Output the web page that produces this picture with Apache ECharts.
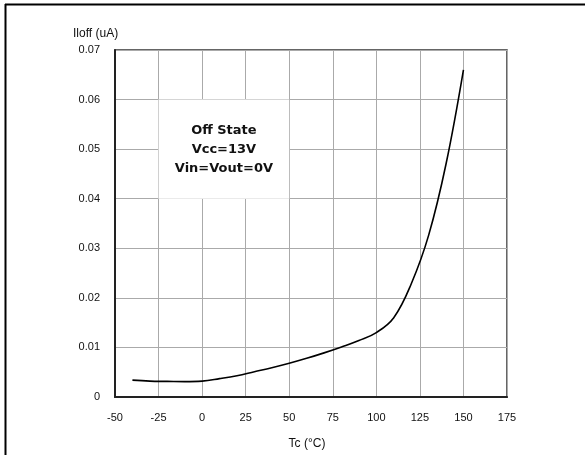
<!DOCTYPE html>
<html>
<head>
<meta charset="utf-8">
<script src="https://cdn.jsdelivr.net/npm/echarts@6/dist/echarts.min.js"></script>
<style>
html,body{margin:0;padding:0;background:#fff;}
#chart{width:585px;height:455px;}
</style>
</head>
<body>
<div id="chart"></div>
<script>
var temps = [-40, -30, -20, -10, 0, 10, 20, 30, 40, 50, 60, 70, 80, 90, 100, 110, 120, 130, 140, 150];
var ioff  = [0.0034, 0.0032, 0.00315, 0.0031, 0.0032, 0.0037, 0.0043, 0.0051, 0.0059, 0.0068, 0.0078, 0.0089, 0.0101, 0.0114, 0.0130, 0.0160, 0.0228, 0.0326, 0.0470, 0.0660];
var noteLines = ['Off State', 'Vcc=13V', 'Vin=Vout=0V'];
var noteBox = [[-25, 0.06], [50, 0.04]];

var font = '"Liberation Sans", Arial, sans-serif';
var chart = echarts.init(document.getElementById('chart'), null, {renderer: 'canvas'});
chart.setOption({
  animation: false,
  backgroundColor: '#fff',
  grid: {left: 115, right: 78, top: 50, bottom: 58, show: true, borderColor: '#333', borderWidth: 1.5},
  xAxis: {
    type: 'value', min: -50, max: 175, interval: 25,
    name: 'Tc (°C)', nameLocation: 'middle', nameGap: 41,
    nameTextStyle: {color: '#111', fontSize: 12, fontFamily: font, padding: [0, 8, 0, 0]},
    axisLine: {show: true, onZero: false, lineStyle: {color: '#222', width: 2}},
    axisTick: {show: false},
    axisLabel: {color: '#111', fontSize: 11, fontFamily: font, margin: 15},
    splitLine: {show: true, lineStyle: {color: '#aaa', width: 1}}
  },
  yAxis: {
    type: 'value', min: 0, max: 0.07, interval: 0.01,
    axisLine: {show: true, onZero: false, lineStyle: {color: '#222', width: 2}},
    axisTick: {show: false},
    axisLabel: {color: '#111', fontSize: 11, fontFamily: font, margin: 15,
      formatter: function (v) { return v === 0 ? '0' : v.toFixed(2); }},
    splitLine: {show: true, lineStyle: {color: '#aaa', width: 1}}
  },
  graphic: [
    {type: 'line', shape: {x1: 5, y1: 4.5, x2: 585, y2: 4.5}, style: {stroke: '#000', lineWidth: 2}},
    {type: 'line', shape: {x1: 5.5, y1: 4, x2: 5.5, y2: 455}, style: {stroke: '#000', lineWidth: 2}},
    {type: 'text', left: 73, top: 28, style: {text: 'Iloff (uA)', fill: '#111', fontSize: 12, fontFamily: font}}
  ],
  series: [{
    type: 'line',
    data: temps.map(function (t, i) { return [t, ioff[i]]; }),
    smooth: 0.4,
    showSymbol: false,
    lineStyle: {color: '#000', width: 1.6},
    markArea: {
      silent: true,
      itemStyle: {color: '#fff', opacity: 1},
      label: {
        show: true, position: 'inside',
        formatter: noteLines.join('\n'),
        color: '#111', fontSize: 13, fontWeight: 'bold', fontFamily: '"DejaVu Sans", sans-serif', lineHeight: 19,
        padding: [7, 0, 0, 0]
      },
      data: [[{coord: noteBox[0]}, {coord: noteBox[1]}]]
    }
  }]
});
</script>
</body>
</html>
